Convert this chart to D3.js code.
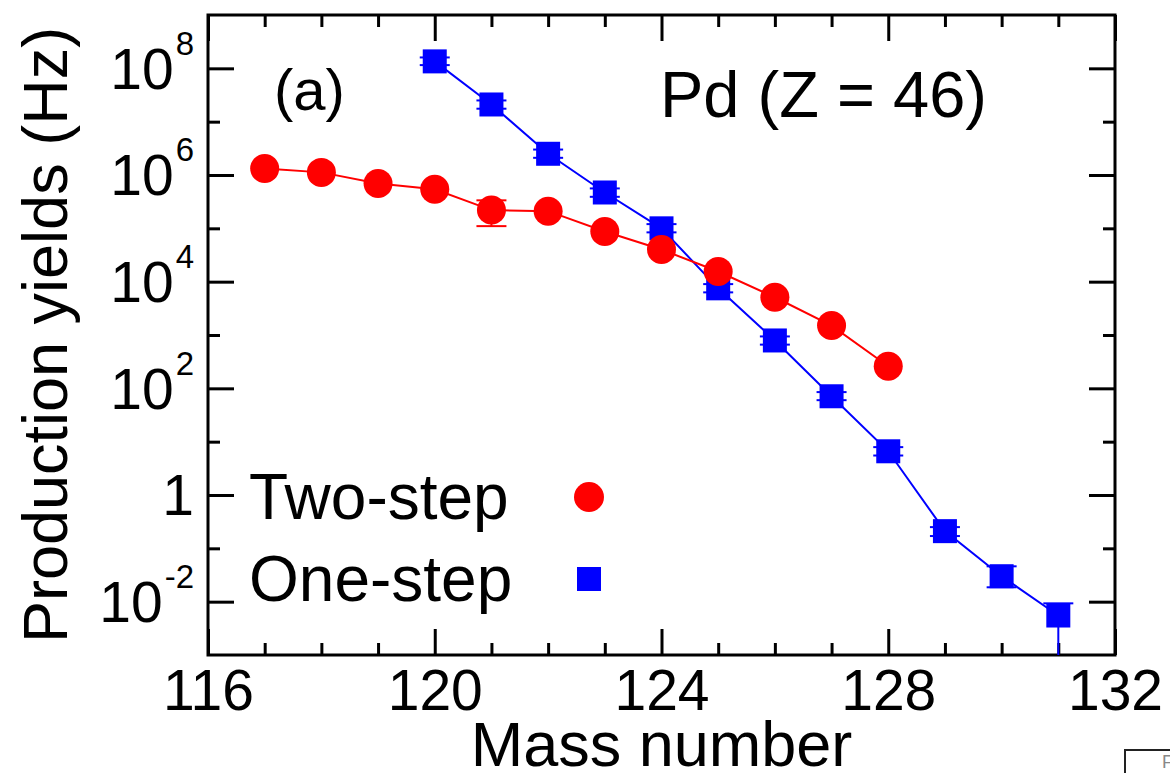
<!DOCTYPE html>
<html>
<head>
<meta charset="utf-8">
<script src="https://cdn.jsdelivr.net/npm/d3@7"></script>
<style>
	body { margin: 0; background: #ffffff; }
	text { font-family: "Liberation Sans", Arial, Helvetica, sans-serif; }
</style>
</head>
<body>
<div id="vis-container"></div>
<script>
// two-step yields (red circles)
var twoStepMass = [117, 118, 119, 120, 121, 122, 123, 124, 125, 126, 127, 128];
var twoStepYield = [1.33e6, 1.12e6, 6.9e5, 5.4e5, 2.2e5, 2.1e5, 8.7e4, 4.0e4, 1.55e4, 5.1e3, 1.5e3, 2.6e2];
var twoStepLow = [1.33e6, 1.12e6, 6.9e5, 5.4e5, 1.1e5, 2.1e5, 8.7e4, 4.0e4, 1.55e4, 5.1e3, 1.5e3, 2.6e2];
var twoStepHigh = [1.33e6, 1.12e6, 6.9e5, 5.4e5, 3.35e5, 2.1e5, 8.7e4, 4.0e4, 1.55e4, 5.1e3, 1.5e3, 2.6e2];

// one-step yields (blue squares)
var oneStepMass = [120, 121, 122, 123, 124, 125, 126, 127, 128, 129, 130, 131];
var oneStepYield = [1.35e8, 2.1e7, 2.5e6, 4.7e5, 1.0e5, 7.5e3, 7.9e2, 71, 6.6, 0.21, 0.030, 0.0055];
var oneStepLow = [1.15e8, 1.75e7, 2.1e6, 3.9e5, 8.4e4, 6.3e3, 6.6e2, 60, 5.5, 0.17, 0.0186, 0.0005];
var oneStepHigh = [1.6e8, 2.5e7, 3.0e6, 5.6e5, 1.2e5, 9.0e3, 9.4e2, 85, 7.9, 0.25, 0.046, 0.0093];

// axes
var xMajorTicks = [116, 120, 124, 128, 132];
var xMinorTicks = [117, 118, 119, 121, 122, 123, 125, 126, 127, 129, 130, 131];
var yMajorTicks = [1e8, 1e6, 1e4, 1e2, 1, 1e-2];
var yMajorBase = ["10", "10", "10", "10", "1", "10"];
var yMajorExp = ["8", "6", "4", "2", "", "-2"];
var yMinorTicks = [1e7, 1e5, 1e3, 1e1, 1e-1];

var seriesNames = ["Two-step", "One-step"];
var panelLabel = "(a)";
var elementLabel = "Pd (Z = 46)";

// svg container
var width = 1170;
var height = 773;
var plotLeft = 208, plotRight = 1115, plotTop = 15, plotBottom = 655;

var svg = d3.select("#vis-container")
	.append("svg")
	.attr("width", width)
	.attr("height", height)
	.style("background-color", "#ffffff");

var x = d3.scaleLinear().domain([116, 132]).range([plotLeft, plotRight]);
var y = d3.scaleLog().domain([1e-3, 1e9]).range([plotBottom, plotTop]);

// ticks pointing inward on all four sides
function styleTicks(g) {
	g.select(".domain").remove();
	g.selectAll(".tick line").attr("stroke", "#000").attr("stroke-width", 3);
	g.selectAll("text").attr("font-size", 57).attr("fill", "#000");
}

svg.append("g").attr("transform", "translate(0," + plotBottom + ")")
	.call(d3.axisBottom(x).tickValues(xMajorTicks).tickSize(-26).tickPadding(15).tickFormat(d3.format("d")))
	.call(styleTicks);
svg.append("g").attr("transform", "translate(0," + plotBottom + ")")
	.call(d3.axisBottom(x).tickValues(xMinorTicks).tickSize(-12).tickFormat(""))
	.call(styleTicks);
svg.append("g").attr("transform", "translate(0," + plotTop + ")")
	.call(d3.axisTop(x).tickValues(xMajorTicks).tickSize(-26).tickFormat(""))
	.call(styleTicks);
svg.append("g").attr("transform", "translate(0," + plotTop + ")")
	.call(d3.axisTop(x).tickValues(xMinorTicks).tickSize(-12).tickFormat(""))
	.call(styleTicks);

var yLeft = svg.append("g").attr("transform", "translate(" + plotLeft + ",0)")
	.call(d3.axisLeft(y).tickValues(yMajorTicks).tickSize(-26).tickFormat(""))
	.call(styleTicks);
svg.append("g").attr("transform", "translate(" + plotLeft + ",0)")
	.call(d3.axisLeft(y).tickValues(yMinorTicks).tickSize(-12).tickFormat(""))
	.call(styleTicks);
svg.append("g").attr("transform", "translate(" + plotRight + ",0)")
	.call(d3.axisRight(y).tickValues(yMajorTicks).tickSize(-26).tickFormat(""))
	.call(styleTicks);
svg.append("g").attr("transform", "translate(" + plotRight + ",0)")
	.call(d3.axisRight(y).tickValues(yMinorTicks).tickSize(-12).tickFormat(""))
	.call(styleTicks);

// y labels with superscript powers
yLeft.selectAll(".tick").each(function(d, i) {
	var t = d3.select(this).select("text")
		.attr("x", -14)
		.attr("dy", "0.35em")
		.attr("text-anchor", "end")
		.attr("font-size", 57);
	t.append("tspan").text(yMajorBase[i]);
	if (yMajorExp[i] !== "") {
		t.append("tspan").attr("font-size", 33).attr("dx", 2).attr("dy", -34).text(yMajorExp[i]);
	}
});

// frame
svg.append("rect")
	.attr("x", plotLeft).attr("y", plotTop)
	.attr("width", plotRight - plotLeft).attr("height", plotBottom - plotTop)
	.attr("fill", "none").attr("stroke", "#000").attr("stroke-width", 3);

// axis titles
svg.append("text")
	.attr("x", (plotLeft + plotRight) / 2).attr("y", 766)
	.attr("text-anchor", "middle").attr("font-size", 63)
	.text("Mass number");
svg.append("text")
	.attr("transform", "translate(67," + (plotTop + plotBottom) / 2 + ") rotate(-90)")
	.attr("text-anchor", "middle").attr("font-size", 63)
	.text("Production yields (Hz)");

// annotations
svg.append("text").attr("x", 274).attr("y", 110).attr("font-size", 58).text(panelLabel);
svg.append("text").attr("x", 660).attr("y", 117).attr("font-size", 65).text(elementLabel);

// clip data to the plot
svg.append("clipPath").attr("id", "plot-clip")
	.append("rect").attr("x", plotLeft).attr("y", plotTop)
	.attr("width", plotRight - plotLeft).attr("height", plotBottom - plotTop);
var plot = svg.append("g").attr("clip-path", "url(#plot-clip)");

var line = d3.line()
	.x(function(d) { return x(d.mass); })
	.y(function(d) { return y(d.value); });

function drawSeries(mass, values, lows, highs, color, shape) {
	var data = mass.map(function(m, i) {
		return { mass: m, value: values[i], low: lows[i], high: highs[i] };
	});
	plot.append("path")
		.attr("d", line(data))
		.attr("stroke", color)
		.attr("stroke-width", 2)
		.attr("fill", "none");
	// error bars
	data.forEach(function(d) {
		if (d.low === d.high) return;
		var cx = x(d.mass);
		plot.append("line")
			.attr("x1", cx).attr("x2", cx)
			.attr("y1", y(d.low)).attr("y2", y(d.high))
			.attr("stroke", color).attr("stroke-width", 2);
		[d.low, d.high].forEach(function(v) {
			plot.append("line")
				.attr("x1", cx - 15).attr("x2", cx + 15)
				.attr("y1", y(v)).attr("y2", y(v))
				.attr("stroke", color).attr("stroke-width", 2);
		});
	});
	// markers
	data.forEach(function(d) {
		if (shape === "circle") {
			plot.append("circle")
				.attr("cx", x(d.mass)).attr("cy", y(d.value)).attr("r", 14.5)
				.attr("fill", color);
		} else {
			plot.append("rect")
				.attr("x", x(d.mass) - 12).attr("y", y(d.value) - 12)
				.attr("width", 24).attr("height", 24)
				.attr("fill", color);
		}
	});
}

drawSeries(oneStepMass, oneStepYield, oneStepLow, oneStepHigh, "#0000ff", "square");
drawSeries(twoStepMass, twoStepYield, twoStepLow, twoStepHigh, "#ff0000", "circle");

// legend
var legend = svg.append("g");
legend.append("text").attr("x", 249).attr("y", 519).attr("font-size", 64).text(seriesNames[0]);
legend.append("circle").attr("cx", 589).attr("cy", 497).attr("r", 15).attr("fill", "#ff0000");
legend.append("text").attr("x", 249).attr("y", 601).attr("font-size", 64).text(seriesNames[1]);
legend.append("rect").attr("x", 577).attr("y", 567).attr("width", 24).attr("height", 24).attr("fill", "#0000ff");

// edge of the neighbouring panel, bottom right
svg.append("rect")
	.attr("x", 1125).attr("y", 750).attr("width", 80).attr("height", 40)
	.attr("fill", "none").attr("stroke", "#222").attr("stroke-width", 2);
svg.append("text").attr("x", 1162).attr("y", 768).attr("font-size", 18).attr("fill", "#888").text("F");
</script>
</body>
</html>
